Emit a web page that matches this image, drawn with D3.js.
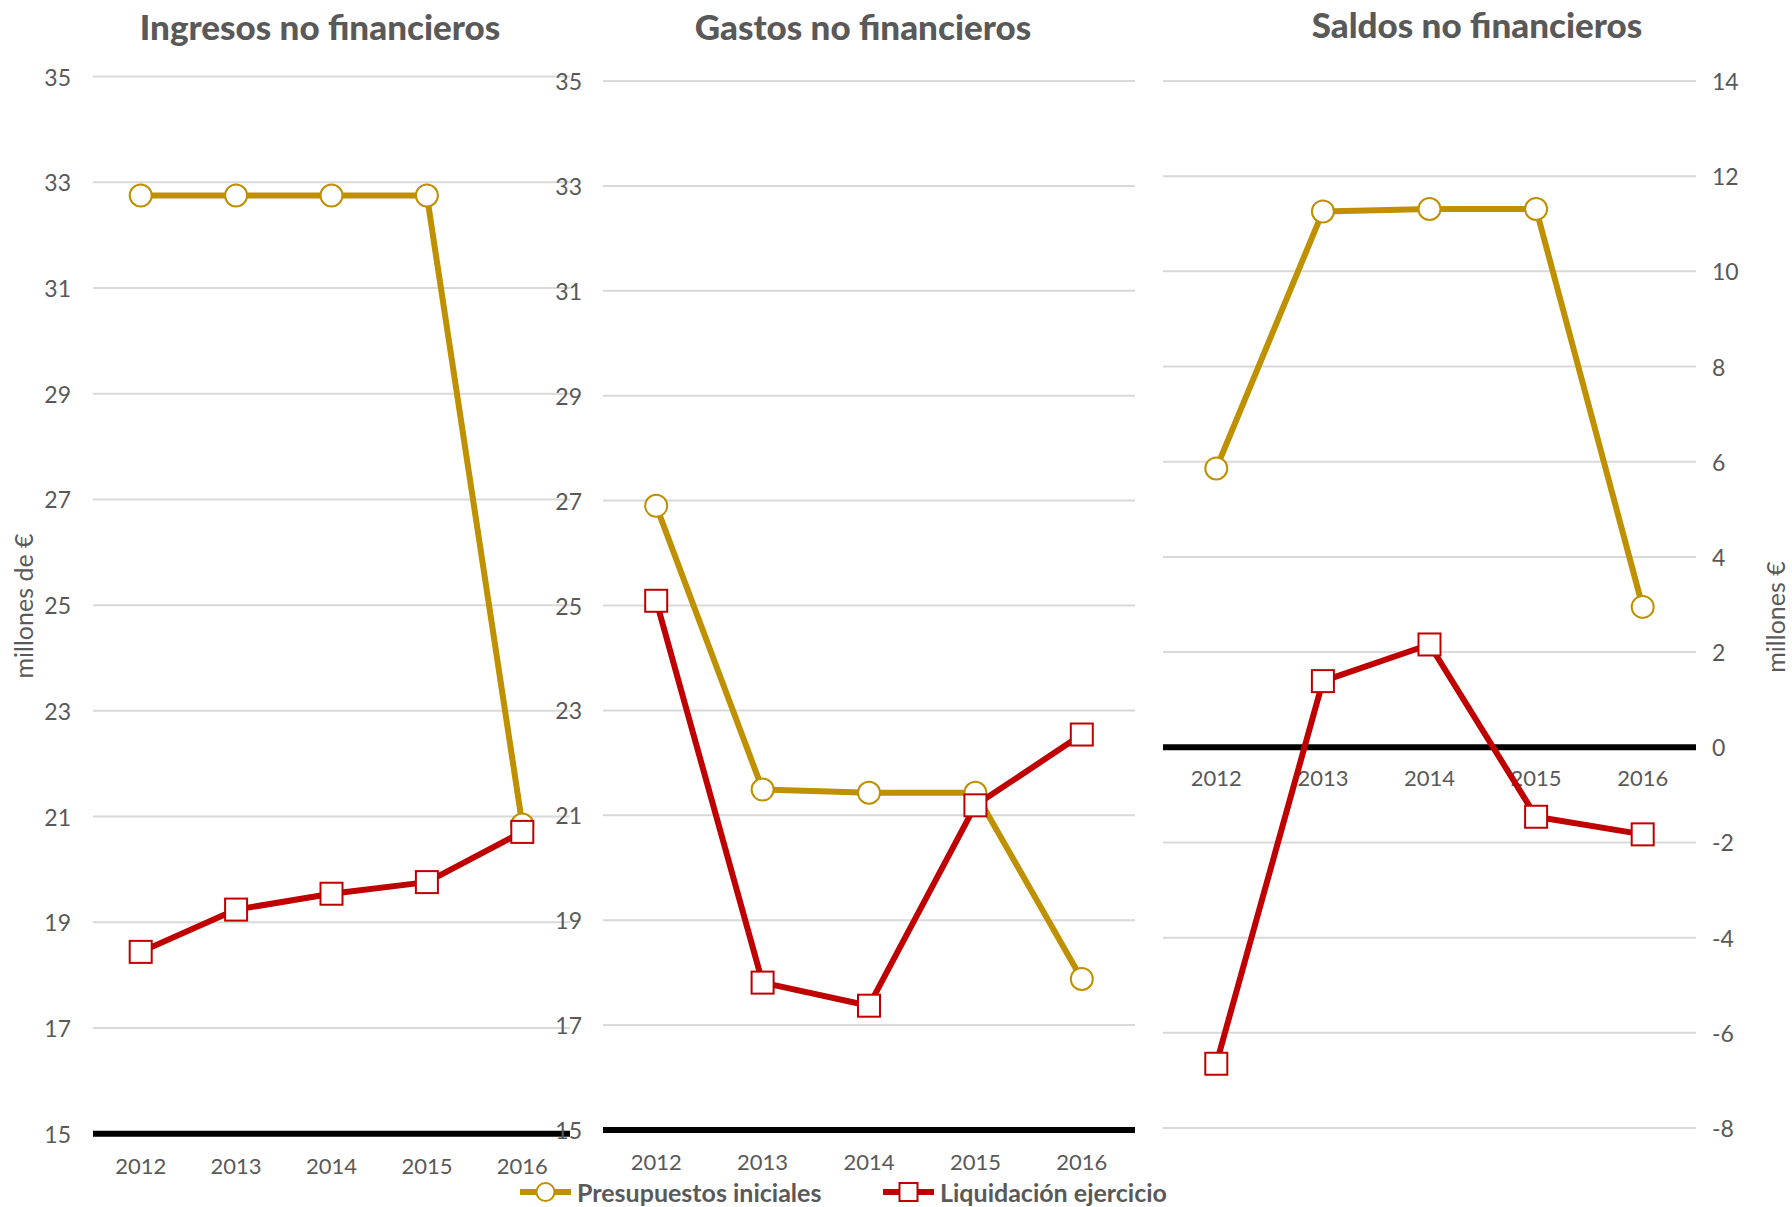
<!DOCTYPE html>
<html><head><meta charset="utf-8">
<script src="https://cdn.jsdelivr.net/npm/d3@7"></script>
<style>body{margin:0;background:#fff}svg{display:block}text{font-family:Lato,"Open Sans",sans-serif;fill:#595959}</style>
</head><body>
<svg id="c" width="1792" height="1207"></svg>
<script>
const years = ["2012","2013","2014","2015","2016"];
const ingresosPresupuestos = [32.75,32.75,32.75,32.75,20.85];
const ingresosLiquidacion = [18.44,19.24,19.54,19.76,20.71];
const gastosPresupuestos = [26.9,21.49,21.43,21.43,17.88];
const gastosLiquidacion = [25.09,17.81,17.37,21.19,22.54];
const saldosPresupuestos = [5.86,11.26,11.31,11.31,2.95];
const saldosLiquidacion = [-6.65,1.39,2.16,-1.46,-1.83];
const ticksMillones = [15,17,19,21,23,25,27,29,31,33,35];
const ticksSaldos = [-8,-6,-4,-2,0,2,4,6,8,10,12,14];
const titles = ["Ingresos no financieros","Gastos no financieros","Saldos no financieros"];
const seriesNames = ["Presupuestos iniciales","Liquidación ejercicio"];

const GOLD = "#BF9000", RED = "#C00000", GRID = "#D9D9D9";
const svg = d3.select("#c");

const panels = [
  {title:titles[0], pres:ingresosPresupuestos, liq:ingresosLiquidacion, ticks:ticksMillones,
   dom:[15,35], x0:93, x1:570, yTop:76.6, yBot:1133.7, base:15, side:"left", labelX:71,
   yearY:1165, titleX:320, titleY:26},
  {title:titles[1], pres:gastosPresupuestos, liq:gastosLiquidacion, ticks:ticksMillones,
   dom:[15,35], x0:603, x1:1135, yTop:81, yBot:1130, base:15, side:"left", labelX:582,
   yearY:1161, titleX:863, titleY:26},
  {title:titles[2], pres:saldosPresupuestos, liq:saldosLiquidacion, ticks:ticksSaldos,
   dom:[-8,14], x0:1163, x1:1696, yTop:81, yBot:1128, base:0, side:"right", labelX:1712,
   yearY:777, titleX:1477, titleY:24}
];

panels.forEach(p => {
  const x = d3.scalePoint().domain(years).range([p.x0, p.x1]).padding(0.5);
  const y = d3.scaleLinear().domain(p.dom).range([p.yBot, p.yTop]);
  const g = svg.append("g");
  g.selectAll("line.grid").data(p.ticks.filter(t => t !== p.base)).enter().append("line")
    .attr("x1", p.x0).attr("x2", p.x1).attr("y1", d => y(d)).attr("y2", d => y(d))
    .attr("stroke", GRID).attr("stroke-width", 2);
  g.selectAll("text.tick").data(p.ticks).enter().append("text")
    .attr("x", p.labelX).attr("y", d => y(d))
    .attr("text-anchor", p.side === "left" ? "end" : "start")
    .attr("dominant-baseline", "central")
    .style("font-size", "23px").text(d => d);
  g.append("line").attr("x1", p.x0).attr("x2", p.x1)
    .attr("y1", y(p.base)).attr("y2", y(p.base))
    .attr("stroke", "#000").attr("stroke-width", 6);
  g.selectAll("text.year").data(years).enter().append("text")
    .attr("x", d => x(d)).attr("y", p.yearY).attr("text-anchor", "middle")
    .attr("dominant-baseline", "central").style("font-size", "22px").text(d => d);
  g.append("text").attr("x", p.titleX).attr("y", p.titleY).attr("text-anchor", "middle")
    .attr("dominant-baseline", "central").style("font-size", "35px").style("font-weight", "900")
    .text(p.title);
  const line = d3.line().x((d,i) => x(years[i])).y(d => y(d));
  g.append("path").datum(p.pres).attr("d", line).attr("fill", "none")
    .attr("stroke", GOLD).attr("stroke-width", 6).attr("stroke-linejoin", "round");
  g.selectAll("circle.m").data(p.pres).enter().append("circle")
    .attr("cx", (d,i) => x(years[i])).attr("cy", d => y(d)).attr("r", 11)
    .attr("fill", "#fff").attr("stroke", GOLD).attr("stroke-width", 2);
  g.append("path").datum(p.liq).attr("d", line).attr("fill", "none")
    .attr("stroke", RED).attr("stroke-width", 6).attr("stroke-linejoin", "round");
  g.selectAll("rect.m").data(p.liq).enter().append("rect")
    .attr("x", (d,i) => x(years[i]) - 11).attr("y", d => y(d) - 11)
    .attr("width", 22).attr("height", 22)
    .attr("fill", "#fff").attr("stroke", RED).attr("stroke-width", 2);
});

svg.append("text").attr("transform", "translate(23,606) rotate(-90)")
  .attr("text-anchor", "middle").attr("dominant-baseline", "central")
  .style("font-size", "25px").text("millones de €");
svg.append("text").attr("transform", "translate(1775,617) rotate(-90)")
  .attr("text-anchor", "middle").attr("dominant-baseline", "central")
  .style("font-size", "25px").text("millones €");

const legend = [
  {name:seriesNames[0], color:GOLD, shape:"circle", x0:520},
  {name:seriesNames[1], color:RED, shape:"rect", x0:883}
];
const ly = 1192;
legend.forEach(l => {
  const g = svg.append("g");
  g.append("line").attr("x1", l.x0).attr("x2", l.x0 + 51).attr("y1", ly).attr("y2", ly)
    .attr("stroke", l.color).attr("stroke-width", 6);
  const cx = l.x0 + 25.5;
  if (l.shape === "circle") {
    g.append("circle").attr("cx", cx).attr("cy", ly).attr("r", 9)
      .attr("fill", "#fff").attr("stroke", l.color).attr("stroke-width", 2);
  } else {
    g.append("rect").attr("x", cx - 9).attr("y", ly - 9).attr("width", 18).attr("height", 18)
      .attr("fill", "#fff").attr("stroke", l.color).attr("stroke-width", 2);
  }
  g.append("text").attr("x", l.x0 + 57).attr("y", ly).attr("dominant-baseline", "central")
    .style("font-size", "25px").style("font-weight", "bold").text(l.name);
});
</script>
</body></html>
